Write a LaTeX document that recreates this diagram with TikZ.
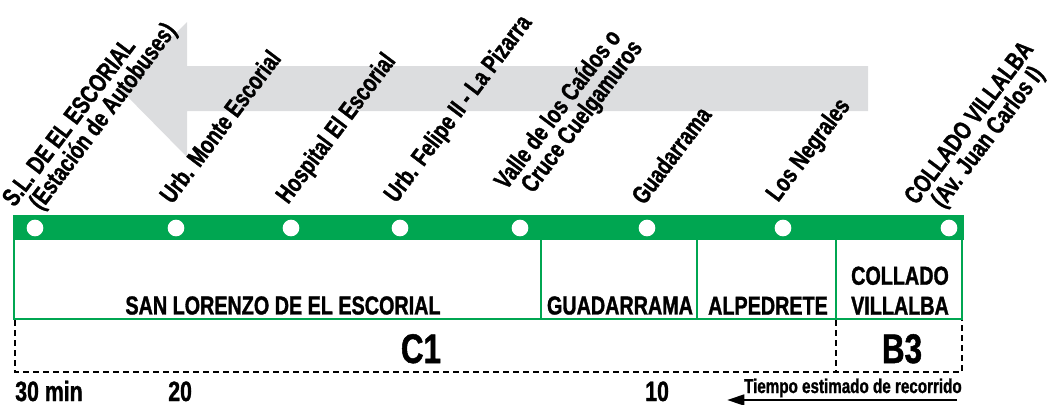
\documentclass[tikz,border=0pt]{standalone}
\usepackage{fontspec}
\newfontfamily\condfont{Liberation Sans}[FakeStretch=0.76,FakeBold=1.2]
\usetikzlibrary{positioning}
\usetikzlibrary{arrows.meta}
\definecolor{linegreen}{RGB}{0,166,81}
\definecolor{arrowgray}{RGB}{220,221,223}

\begin{document}
\begin{tikzpicture}[x=0.75pt,y=-0.75pt,
% Stops and labels style
    stop/.style={circle,fill=white,inner sep=0pt,minimum size=12.5pt},
    stoplabel/.style={rotate=53,anchor=base west,inner sep=0pt,align=left,
		font=\condfont\bfseries\fontsize{19}{17.5}\selectfont},
% Zones style
    zone/.style={font=\condfont\bfseries\fontsize{19.5}{22.5}\selectfont,
		align=center,inner sep=0pt,anchor=south},
    fare/.style={font=\condfont\bfseries\fontsize{31}{31}\selectfont,
		inner sep=0pt,anchor=base},
    border/.style={linegreen,line width=1.6pt},
    fareline/.style={black,line width=1.5pt,dash pattern=on 4.5pt off 3pt},
% Times style
    time/.style={font=\condfont\bfseries\fontsize{21}{21}\selectfont,
		inner sep=0pt,anchor=base west}
    ]
  \useasboundingbox (0,0) rectangle (1050,404);

  % direction of travel
  \fill[arrowgray] (120,89) -- (187,22) -- (187,66) -- (868,66) -- (868,111)
    -- (187,111) -- (187,157) -- cycle;

  % the line and its zones
  \fill[linegreen] (13,215) rectangle (964,240);
  \draw[border] (14,240) -- (14,319) -- (962,319) -- (962,240);
  \draw[border] (541,240) -- (541,319);
  \draw[border] (697,240) -- (697,319);
  \draw[border] (836,240) -- (836,319);

  \node (s1) [stop] at (35,228) {};
  \node (s2) [stop] at (176,228) {};
  \node (s3) [stop] at (291,228) {};
  \node (s4) [stop] at (400,228) {};
  \node (s5) [stop] at (520,228) {};
  \node (s6) [stop] at (647,228) {};
  \node (s7) [stop] at (783,228) {};
  \node (s8) [stop] at (949,228) {};

  \node (l1) [stoplabel] at (33,222) {S.L. DE EL ESCORIAL\\\hspace*{10pt}(Estación de Autobuses)};
  \node (l2) [stoplabel] at (172,205) {Urb. Monte Escorial};
  \node (l3) [stoplabel] at (288,205) {Hospital El Escorial};
  \node (l4) [stoplabel] at (396,204) {Urb. Felipe II - La Pizarra};
  \node (l5) [stoplabel] at (525,205) {Valle de los Caídos o\\\hspace*{10pt}Cruce Cuelgamuros};
  \node (l6) [stoplabel] at (644,206) {Guadarrama};
  \node (l7) [stoplabel] at (778,203) {Los Negrales};
  \node (l8) [stoplabel] at (935,220) {COLLADO VILLALBA\\\hspace*{10pt}(Av. Juan Carlos I)};

  \node (z1) [zone] at (283,315) {SAN LORENZO DE EL ESCORIAL};
  \node (z2) [zone] at (620,315) {GUADARRAMA};
  \node (z3) [zone] at (768,315) {ALPEDRETE};
  \node (z4) [zone] at (900,315) {COLLADO\\VILLALBA};

  % fare zones
  \draw[fareline] (15,320) -- (15,372) -- (962,372) -- (962,320);
  \draw[fareline] (836,320) -- (836,372);
  \node (c1) [fare] at (421,363) {C1};
  \node (b3) [fare] at (902,363) {B3};

  % travel times
  \node (t30) [time] at (15,401) {30 min};
  \node (t20) [time] at (168,401) {20};
  \node (t10) [time] at (645,401) {10};
  \node (tnote) [time,anchor=base east,font=\condfont\bfseries\fontsize{15}{15}\selectfont]
    at (962,393) {Tiempo estimado de recorrido};
  \coordinate (tfrom) at (957,400);
  \coordinate (tto) at (727,400);
  \draw[line width=2pt,-{Triangle[length=13pt,width=8pt]}] (tfrom) -- (tto);

\end{tikzpicture}
\end{document}
